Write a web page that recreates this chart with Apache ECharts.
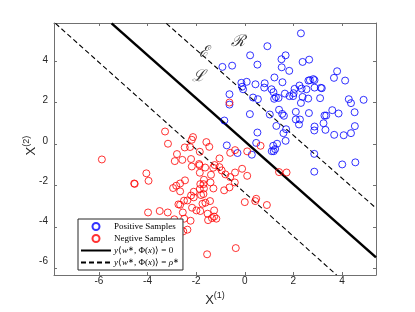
<!DOCTYPE html>
<html>
<head>
<meta charset="utf-8">
<script src="https://cdn.jsdelivr.net/npm/echarts@6/dist/echarts.min.js"></script>
<style>html,body{margin:0;padding:0;background:#fff}#c{width:415px;height:312px}</style>
</head>
<body>
<div id="c"></div>
<script>
// ---- data ----
const positiveX = [2.31,0.93,0.22,1.68,1.51,0.52,2.38,2.65,-0.92,-0.52,1.52,1.83,3.80,3.67,4.13,1.22,1.55,-0.14,0.08,0.44,0.82,0.80,-0.11,-0.07,1.10,1.18,1.65,2.62,2.68,2.82,2.87,2.87,2.25,2.34,2.05,2.54,3.13,3.17,2.01,1.84,1.99,1.28,1.39,1.21,0.34,0.54,-0.63,-0.63,2.38,2.61,3.10,4.28,4.37,4.89,2.31,2.10,2.64,1.41,1.54,1.61,1.03,0.21,3.28,3.35,3.60,3.86,4.52,-0.84,2.10,2.27,2.23,1.30,1.70,2.87,2.86,3.24,3.32,4.53,4.37,4.07,3.68,0.52,1.59,1.68,0.47,1.33,1.17,1.25,1.11,1.19,-0.74,-0.30,0.29,2.86,2.86,4.01,4.55];
const positiveY = [5.35,4.73,4.29,4.29,4.10,3.84,3.97,4.08,3.73,3.79,3.71,3.54,3.52,3.20,3.07,3.22,2.99,2.96,3.01,2.89,2.94,2.73,2.77,2.65,2.65,2.51,2.44,3.07,3.09,3.14,3.09,2.73,2.83,2.68,2.67,2.65,2.72,2.70,2.46,2.32,2.32,2.27,2.23,2.19,2.25,2.17,2.41,1.91,2.28,2.20,2.22,2.17,1.98,2.14,1.99,1.56,1.50,1.66,1.46,1.37,1.43,1.45,1.38,1.38,1.64,1.48,1.54,1.14,1.19,1.19,0.95,0.88,0.72,0.85,0.66,1.01,0.69,0.87,0.53,0.43,0.45,0.56,0.53,0.16,0.06,0.02,-0.08,-0.24,-0.34,-0.34,-0.06,-0.43,-0.51,-0.47,-1.33,-0.98,-0.88];
const negativeX = [-3.28,-5.88,-3.16,-2.13,-2.18,-2.47,-2.25,-1.58,-1.46,-1.85,-2.79,-2.57,-2.21,-2.88,-1.04,-0.60,-0.40,0.10,-0.63,0.65,-1.88,-1.63,-1.85,-1.68,-1.39,-1.24,-1.04,-0.95,-1.30,-0.80,-0.40,-0.11,0.10,-0.60,-4.05,-3.96,-4.55,-4.53,-2.95,-2.82,-2.66,-2.46,-2.66,-1.83,-1.70,-1.41,-1.85,-1.68,-2.10,-1.29,-0.85,-0.63,-0.41,-1.70,-1.80,-2.21,-2.10,-2.50,-2.36,-2.73,-2.17,-1.74,-1.62,-1.43,-1.99,-1.83,-2.66,-2.55,-3.98,-3.50,-3.17,-1.53,-1.26,-1.26,-1.35,-1.17,-1.51,-2.23,-2.49,-2.90,-2.53,-2.36,-2.80,-2.71,-1.55,-0.37,0.00,0.47,0.43,0.91,1.41,1.72,-2.18,-1.86];
const negativeY = [0.61,-0.74,0.02,0.34,0.21,-0.16,-0.14,0.10,-0.13,-0.37,-0.48,-0.76,-0.72,-0.82,-0.69,-0.42,-0.29,-0.35,2.01,-0.08,-0.96,-1.13,-1.38,-1.72,-1.48,-1.01,-1.11,-1.27,-1.14,-1.46,-1.37,-1.19,-1.53,-1.59,-1.41,-1.77,-1.90,-1.92,-2.12,-2.01,-1.90,-1.75,-2.28,-1.93,-1.93,-1.85,-2.17,-2.14,-2.30,-2.14,-2.23,-2.09,-1.85,-2.41,-2.46,-2.48,-2.57,-2.73,-2.72,-2.91,-3.07,-2.88,-2.83,-2.75,-3.20,-3.23,-2.93,-3.30,-3.30,-3.23,-3.30,-3.36,-3.20,-3.50,-3.57,-3.60,-3.67,-3.70,-3.60,-3.63,-4.21,-4.13,-4.42,-4.69,-5.32,-5.02,-2.80,-2.64,-2.75,-2.94,-1.35,-1.37,-1.08,-1.02];

const boundaryX = [-5.48, 5.4];
const boundaryY = [5.83, -5.47];
const marginUpperX = [-3.23, 5.4];
const marginUpperY = [5.83, -3.09];
const marginLowerX = [-7.79, 3.78];
const marginLowerY = [5.83, -6.32];

const tickValues = [-6, -4, -2, 0, 2, 4];
const regionLabels = ['ℛ', 'ℰ', 'ℒ'];
const regionLabelX = [-0.29, -1.69, -1.90];
const regionLabelY = [4.93, 4.40, 3.25];

const seriesNames = ['Positive Samples', 'Negtive Samples', 'y⟨w*, Φ(x)⟩ = 0', 'y⟨w*, Φ(x)⟩ = ρ*'];
const legendRich = {
  'y⟨w*, Φ(x)⟩ = 0': '{i|y}⟨{i|w}{s|∗}, Φ({i|x})⟩ = 0',
  'y⟨w*, Φ(x)⟩ = ρ*': '{i|y}⟨{i|w}{s|∗}, Φ({i|x})⟩ = {i|ρ}{s|∗}'
};

// ---- build ----
const zip = (xs, ys) => xs.map((x, i) => [x, ys[i]]);
const axisColor = '#707070';
const labelColor = '#262626';
const xMin = -7.85, xMax = 5.4, yMin = -6.32, yMax = 5.85;
const gridBox = { left: 54, right: 39, top: 23, bottom: 37 };

const nameRich = {
  b: { fontSize: 13, lineHeight: 16, verticalAlign: 'bottom', color: labelColor, fontFamily: 'Liberation Sans' },
  s: { fontSize: 9, lineHeight: 10, verticalAlign: 'top', color: labelColor, fontFamily: 'Liberation Sans' }
};

// tick-only axes (grid 0, carries the data)
function tickAxis(pos, min, max) {
  return {
    type: 'value', gridIndex: 0, position: pos, min, max,
    splitLine: { show: false },
    axisLine: { show: true, onZero: false, lineStyle: { color: axisColor, width: 1 } },
    axisTick: { show: true, inside: true, length: 3, customValues: tickValues, lineStyle: { color: axisColor, width: 1 } },
    axisLabel: { show: false }
  };
}
// label-only axes (grid 1, same rectangle)
function labelAxis(pos, min, max, name, isY) {
  return {
    type: 'value', gridIndex: 1, position: pos, min, max,
    splitLine: { show: false },
    axisLine: { show: false, onZero: false },
    axisTick: { show: false },
    axisLabel: { show: true, customValues: tickValues, margin: isY ? 6 : 8, color: labelColor, fontSize: 10, fontFamily: 'Liberation Sans' },
    name, nameLocation: 'middle',
    nameGap: isY ? 16 : 22, nameRotate: isY ? 90 : 0,
    nameMoveOverlap: isY ? false : true,
    nameTextStyle: { color: labelColor, fontFamily: 'Liberation Sans', rich: nameRich }
  };
}

const scatterStyle = c => ({
  type: 'scatter', symbol: 'circle', symbolSize: 7,
  itemStyle: { color: 'rgba(0,0,0,0)', borderColor: c, borderWidth: 1 },
  clip: true, z: 3
});
const lineStyleSeries = (name, xs, ys, width, dash) => ({
  name, type: 'line', data: zip(xs, ys), showSymbol: false, symbol: 'none',
  lineStyle: { color: '#000', width, type: dash }, itemStyle: { color: '#000' },
  clip: true, z: 2, silent: true
});

const hiddenSymbol = { color: 'rgba(0,0,0,0)', borderColor: 'rgba(0,0,0,0)', borderWidth: 0 };

const option = {
  animation: false,
  backgroundColor: '#fff',
  grid: [Object.assign({}, gridBox), Object.assign({}, gridBox)],
  xAxis: [tickAxis('bottom', xMin, xMax), tickAxis('top', xMin, xMax), labelAxis('bottom', xMin, xMax, '{b|X}{s|(1)}', false)],
  yAxis: [tickAxis('left', yMin, yMax), tickAxis('right', yMin, yMax), labelAxis('left', yMin, yMax, '{b|X}{s|(2)}', true)],
  legend: {
    orient: 'vertical', left: 78, top: 219,
    data: [
      { name: seriesNames[0], icon: 'circle' },
      { name: seriesNames[1], icon: 'circle' },
      { name: seriesNames[2], itemStyle: hiddenSymbol },
      { name: seriesNames[3], itemStyle: hiddenSymbol }
    ],
    itemWidth: 30, itemHeight: 7, itemGap: 3,
    padding: [3, 4, 3, 2],
    backgroundColor: '#fff', borderColor: '#262626', borderWidth: 1, borderRadius: 0,
    selectedMode: false,
    formatter: n => legendRich[n] || n,
    textStyle: { fontFamily: 'Liberation Serif', fontSize: 9, lineHeight: 9, color: '#000', padding: [0, 0, 0, -2],
      rich: { i: { fontFamily: 'Liberation Serif', fontStyle: 'italic', fontSize: 9, color: '#000' },
              s: { fontFamily: 'Liberation Serif', fontSize: 7, verticalAlign: 'top', lineHeight: 8, color: '#000' } } }
  },
  series: [
    Object.assign(scatterStyle('#0000ff'), { name: seriesNames[0], data: zip(positiveX, positiveY) }),
    Object.assign(scatterStyle('#ff0000'), { name: seriesNames[1], data: zip(negativeX, negativeY) }),
    lineStyleSeries(seriesNames[2], boundaryX, boundaryY, 2.5, 'solid'),
    lineStyleSeries(seriesNames[3], marginUpperX, marginUpperY, 1.1, [5, 3]),
    lineStyleSeries(seriesNames[3], marginLowerX, marginLowerY, 1.1, [5, 3]),
    {
      name: 'regions', type: 'scatter', symbolSize: 0, silent: true, z: 4,
      data: regionLabels.map((t, i) => ({ value: [regionLabelX[i], regionLabelY[i]], label: { formatter: t } })),
      label: { show: true, position: 'inside', fontSize: 16, fontFamily: 'DejaVu Serif', fontStyle: 'italic', color: '#000' }
    }
  ]
};
echarts.init(document.getElementById('c'), null, { renderer: 'canvas' }).setOption(option);
</script>
</body>
</html>
